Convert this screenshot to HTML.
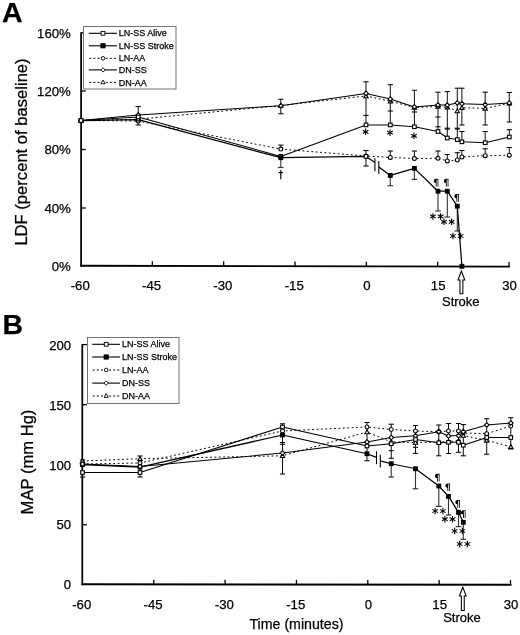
<!DOCTYPE html>
<html><head><meta charset="utf-8"><title>Figure</title>
<style>
html,body{margin:0;padding:0;background:#fff;}
body{width:520px;height:635px;overflow:hidden;font-family:"Liberation Sans", sans-serif;}
svg{display:block;font-family:"Liberation Sans", sans-serif;filter:blur(0.3px);}
</style></head><body>
<svg width="520" height="635" viewBox="0 0 520 635">
<rect width="520" height="635" fill="#fff"/>
<line x1="81.10" y1="32.20" x2="81.10" y2="266.60" stroke="#000" stroke-width="1.75" />
<line x1="80.20" y1="265.75" x2="509.90" y2="266.65" stroke="#000" stroke-width="1.9" />
<line x1="81.10" y1="32.80" x2="85.70" y2="32.80" stroke="#000" stroke-width="1.3" />
<line x1="81.10" y1="91.00" x2="85.70" y2="91.00" stroke="#000" stroke-width="1.3" />
<line x1="81.10" y1="149.50" x2="85.70" y2="149.50" stroke="#000" stroke-width="1.3" />
<line x1="81.10" y1="208.00" x2="85.70" y2="208.00" stroke="#000" stroke-width="1.3" />
<line x1="152.33" y1="265.90" x2="152.33" y2="261.20" stroke="#000" stroke-width="1.3" />
<line x1="223.67" y1="266.05" x2="223.67" y2="261.35" stroke="#000" stroke-width="1.3" />
<line x1="295.00" y1="266.20" x2="295.00" y2="261.50" stroke="#000" stroke-width="1.3" />
<line x1="366.34" y1="266.35" x2="366.34" y2="261.65" stroke="#000" stroke-width="1.3" />
<line x1="437.67" y1="266.50" x2="437.67" y2="261.80" stroke="#000" stroke-width="1.3" />
<line x1="509.00" y1="266.65" x2="509.00" y2="261.95" stroke="#000" stroke-width="1.3" />
<line x1="138.20" y1="106.50" x2="138.20" y2="125.00" stroke="#000" stroke-width="0.95" />
<line x1="135.60" y1="106.50" x2="140.80" y2="106.50" stroke="#000" stroke-width="1.05" />
<line x1="135.60" y1="125.00" x2="140.80" y2="125.00" stroke="#000" stroke-width="1.05" />
<line x1="280.80" y1="99.25" x2="280.80" y2="113.75" stroke="#000" stroke-width="0.95" />
<line x1="278.20" y1="99.25" x2="283.40" y2="99.25" stroke="#000" stroke-width="1.05" />
<line x1="278.20" y1="113.75" x2="283.40" y2="113.75" stroke="#000" stroke-width="1.05" />
<line x1="280.80" y1="145.10" x2="280.80" y2="149.00" stroke="#000" stroke-width="0.95" />
<line x1="278.20" y1="145.10" x2="283.40" y2="145.10" stroke="#000" stroke-width="1.05" />
<line x1="280.80" y1="157.00" x2="280.80" y2="167.50" stroke="#333" stroke-width="1.1" />
<line x1="278.00" y1="167.50" x2="283.60" y2="167.50" stroke="#333" stroke-width="1.2000000000000002" />
<line x1="366.00" y1="81.80" x2="366.00" y2="124.90" stroke="#000" stroke-width="0.95" />
<line x1="363.40" y1="81.80" x2="368.60" y2="81.80" stroke="#000" stroke-width="1.05" />
<line x1="363.40" y1="115.40" x2="368.60" y2="115.40" stroke="#000" stroke-width="1.05" />
<line x1="366.00" y1="150.50" x2="366.00" y2="166.00" stroke="#000" stroke-width="0.95" />
<line x1="363.40" y1="150.50" x2="368.60" y2="150.50" stroke="#000" stroke-width="1.05" />
<line x1="363.40" y1="166.00" x2="368.60" y2="166.00" stroke="#000" stroke-width="1.05" />
<line x1="390.30" y1="84.70" x2="390.30" y2="124.90" stroke="#000" stroke-width="0.95" />
<line x1="387.70" y1="84.70" x2="392.90" y2="84.70" stroke="#000" stroke-width="1.05" />
<line x1="387.70" y1="111.00" x2="392.90" y2="111.00" stroke="#000" stroke-width="1.05" />
<line x1="390.30" y1="151.00" x2="390.30" y2="157.40" stroke="#000" stroke-width="0.95" />
<line x1="387.70" y1="151.00" x2="392.90" y2="151.00" stroke="#000" stroke-width="1.05" />
<line x1="390.30" y1="175.40" x2="390.30" y2="185.70" stroke="#333" stroke-width="1.1" />
<line x1="387.50" y1="185.70" x2="393.10" y2="185.70" stroke="#333" stroke-width="1.2000000000000002" />
<line x1="414.40" y1="90.25" x2="414.40" y2="126.80" stroke="#000" stroke-width="0.95" />
<line x1="411.80" y1="90.25" x2="417.00" y2="90.25" stroke="#000" stroke-width="1.05" />
<line x1="411.80" y1="112.00" x2="417.00" y2="112.00" stroke="#000" stroke-width="1.05" />
<line x1="414.40" y1="151.00" x2="414.40" y2="158.60" stroke="#000" stroke-width="0.95" />
<line x1="411.80" y1="151.00" x2="417.00" y2="151.00" stroke="#000" stroke-width="1.05" />
<line x1="414.40" y1="168.40" x2="414.40" y2="179.40" stroke="#333" stroke-width="1.1" />
<line x1="411.60" y1="179.40" x2="417.20" y2="179.40" stroke="#333" stroke-width="1.2000000000000002" />
<line x1="438.00" y1="92.20" x2="438.00" y2="131.50" stroke="#000" stroke-width="0.95" />
<line x1="435.40" y1="92.20" x2="440.60" y2="92.20" stroke="#000" stroke-width="1.05" />
<line x1="435.40" y1="117.00" x2="440.60" y2="117.00" stroke="#000" stroke-width="1.05" />
<line x1="435.40" y1="126.80" x2="440.60" y2="126.80" stroke="#000" stroke-width="1.05" />
<line x1="438.00" y1="151.00" x2="438.00" y2="158.30" stroke="#000" stroke-width="0.95" />
<line x1="435.40" y1="151.00" x2="440.60" y2="151.00" stroke="#000" stroke-width="1.05" />
<line x1="438.00" y1="191.20" x2="438.00" y2="211.00" stroke="#333" stroke-width="1.1" />
<line x1="435.20" y1="211.00" x2="440.80" y2="211.00" stroke="#333" stroke-width="1.2000000000000002" />
<line x1="447.30" y1="91.60" x2="447.30" y2="138.00" stroke="#000" stroke-width="0.95" />
<line x1="444.70" y1="91.60" x2="449.90" y2="91.60" stroke="#000" stroke-width="1.05" />
<line x1="444.70" y1="128.20" x2="449.90" y2="128.20" stroke="#000" stroke-width="1.05" />
<line x1="444.70" y1="129.10" x2="449.90" y2="129.10" stroke="#000" stroke-width="1.05" />
<line x1="447.30" y1="154.50" x2="447.30" y2="160.90" stroke="#000" stroke-width="0.95" />
<line x1="444.70" y1="154.50" x2="449.90" y2="154.50" stroke="#000" stroke-width="1.05" />
<line x1="447.30" y1="191.20" x2="447.30" y2="217.00" stroke="#333" stroke-width="1.1" />
<line x1="444.50" y1="217.00" x2="450.10" y2="217.00" stroke="#333" stroke-width="1.2000000000000002" />
<line x1="457.30" y1="88.20" x2="457.30" y2="139.60" stroke="#000" stroke-width="0.95" />
<line x1="454.70" y1="88.20" x2="459.90" y2="88.20" stroke="#000" stroke-width="1.05" />
<line x1="454.70" y1="128.20" x2="459.90" y2="128.20" stroke="#000" stroke-width="1.05" />
<line x1="454.70" y1="129.10" x2="459.90" y2="129.10" stroke="#000" stroke-width="1.05" />
<line x1="457.30" y1="152.70" x2="457.30" y2="160.00" stroke="#000" stroke-width="0.95" />
<line x1="454.70" y1="152.70" x2="459.90" y2="152.70" stroke="#000" stroke-width="1.05" />
<line x1="457.30" y1="206.20" x2="457.30" y2="231.00" stroke="#333" stroke-width="1.1" />
<line x1="454.50" y1="231.00" x2="460.10" y2="231.00" stroke="#333" stroke-width="1.2000000000000002" />
<line x1="461.90" y1="88.20" x2="461.90" y2="125.00" stroke="#000" stroke-width="0.95" />
<line x1="459.30" y1="88.20" x2="464.50" y2="88.20" stroke="#000" stroke-width="1.05" />
<line x1="459.30" y1="125.00" x2="464.50" y2="125.00" stroke="#000" stroke-width="1.05" />
<line x1="461.90" y1="131.50" x2="461.90" y2="141.80" stroke="#000" stroke-width="0.95" />
<line x1="459.30" y1="131.50" x2="464.50" y2="131.50" stroke="#000" stroke-width="1.05" />
<line x1="461.90" y1="150.50" x2="461.90" y2="157.00" stroke="#000" stroke-width="0.95" />
<line x1="459.30" y1="150.50" x2="464.50" y2="150.50" stroke="#000" stroke-width="1.05" />
<line x1="485.20" y1="92.20" x2="485.20" y2="125.00" stroke="#000" stroke-width="0.95" />
<line x1="482.60" y1="92.20" x2="487.80" y2="92.20" stroke="#000" stroke-width="1.05" />
<line x1="482.60" y1="125.00" x2="487.80" y2="125.00" stroke="#000" stroke-width="1.05" />
<line x1="485.20" y1="131.50" x2="485.20" y2="142.70" stroke="#000" stroke-width="0.95" />
<line x1="482.60" y1="131.50" x2="487.80" y2="131.50" stroke="#000" stroke-width="1.05" />
<line x1="485.20" y1="148.80" x2="485.20" y2="155.70" stroke="#000" stroke-width="0.95" />
<line x1="482.60" y1="148.80" x2="487.80" y2="148.80" stroke="#000" stroke-width="1.05" />
<line x1="509.30" y1="92.50" x2="509.30" y2="122.00" stroke="#000" stroke-width="0.95" />
<line x1="506.70" y1="92.50" x2="511.90" y2="92.50" stroke="#000" stroke-width="1.05" />
<line x1="506.70" y1="122.00" x2="511.90" y2="122.00" stroke="#000" stroke-width="1.05" />
<line x1="509.30" y1="129.70" x2="509.30" y2="137.00" stroke="#000" stroke-width="0.95" />
<line x1="506.70" y1="129.70" x2="511.90" y2="129.70" stroke="#000" stroke-width="1.05" />
<line x1="509.30" y1="147.50" x2="509.30" y2="155.20" stroke="#000" stroke-width="0.95" />
<line x1="506.70" y1="147.50" x2="511.90" y2="147.50" stroke="#000" stroke-width="1.05" />
<polyline points="81.00,120.50 138.20,121.00 280.80,149.10 366.00,156.00 390.30,157.40 414.40,158.60 438.00,158.30 447.30,160.90 457.30,160.00 461.90,157.00 485.20,155.70 509.30,155.20" fill="none" stroke="#000" stroke-width="1.0" stroke-dasharray="1.8,2.6" stroke-linejoin="round"/>
<polyline points="81.00,120.50 138.20,119.20 280.80,105.50 366.00,96.00 390.30,101.20 414.40,107.50 438.00,106.40 447.30,107.20 457.30,111.00 461.90,107.70 485.20,108.40 509.30,103.20" fill="none" stroke="#000" stroke-width="1.0" stroke-dasharray="1.8,2.6" stroke-linejoin="round"/>
<polyline points="81.00,120.50 138.20,115.00 280.80,105.75 366.00,93.40 390.30,99.00 414.40,106.90 438.00,105.00 447.30,105.10 457.30,102.90 461.90,103.75 485.20,104.60 509.30,102.90" fill="none" stroke="#000" stroke-width="1.05"  stroke-linejoin="round"/>
<polyline points="81.00,120.50 138.20,117.00 280.80,156.40 366.00,124.90 390.30,124.90 414.40,126.80 438.00,131.50 447.30,138.00 457.30,139.60 461.90,141.80 485.20,142.70 509.30,137.00" fill="none" stroke="#000" stroke-width="1.05"  stroke-linejoin="round"/>
<polyline points="81.00,120.70 138.20,119.60 280.80,157.70 366.00,156.40 374.90,162.60" fill="none" stroke="#000" stroke-width="1.25"  stroke-linejoin="round"/>
<polyline points="378.80,167.00 390.30,175.40 414.40,168.40 438.00,191.20 447.30,191.20 457.30,206.20 461.90,266.30" fill="none" stroke="#000" stroke-width="1.25"  stroke-linejoin="round"/>
<line x1="374.90" y1="158.30" x2="374.90" y2="171.30" stroke="#000" stroke-width="1.1" />
<line x1="378.80" y1="161.00" x2="378.80" y2="173.70" stroke="#000" stroke-width="1.1" />
<rect x="79.15" y="118.85" width="3.70" height="3.70" fill="#000" stroke="#000" stroke-width="1.1"/>
<rect x="136.35" y="117.75" width="3.70" height="3.70" fill="#000" stroke="#000" stroke-width="1.1"/>
<circle cx="81.00" cy="120.50" r="1.95" fill="#fff" stroke="#000" stroke-width="1.1"/>
<circle cx="138.20" cy="121.00" r="1.95" fill="#fff" stroke="#000" stroke-width="1.1"/>
<circle cx="280.80" cy="149.10" r="1.95" fill="#fff" stroke="#000" stroke-width="1.1"/>
<circle cx="366.00" cy="156.00" r="1.95" fill="#fff" stroke="#000" stroke-width="1.1"/>
<circle cx="390.30" cy="157.40" r="1.95" fill="#fff" stroke="#000" stroke-width="1.1"/>
<circle cx="414.40" cy="158.60" r="1.95" fill="#fff" stroke="#000" stroke-width="1.1"/>
<circle cx="438.00" cy="158.30" r="1.95" fill="#fff" stroke="#000" stroke-width="1.1"/>
<circle cx="447.30" cy="160.90" r="1.95" fill="#fff" stroke="#000" stroke-width="1.1"/>
<circle cx="457.30" cy="160.00" r="1.95" fill="#fff" stroke="#000" stroke-width="1.1"/>
<circle cx="461.90" cy="157.00" r="1.95" fill="#fff" stroke="#000" stroke-width="1.1"/>
<circle cx="485.20" cy="155.70" r="1.95" fill="#fff" stroke="#000" stroke-width="1.1"/>
<circle cx="509.30" cy="155.20" r="1.95" fill="#fff" stroke="#000" stroke-width="1.1"/>
<polygon points="81.00,118.35 83.15,122.22 78.85,122.22" fill="#fff" stroke="#000" stroke-width="1.1"/>
<polygon points="138.20,117.05 140.35,120.92 136.05,120.92" fill="#fff" stroke="#000" stroke-width="1.1"/>
<polygon points="280.80,103.35 282.95,107.22 278.65,107.22" fill="#fff" stroke="#000" stroke-width="1.1"/>
<polygon points="366.00,93.85 368.15,97.72 363.85,97.72" fill="#fff" stroke="#000" stroke-width="1.1"/>
<polygon points="390.30,99.05 392.45,102.92 388.15,102.92" fill="#fff" stroke="#000" stroke-width="1.1"/>
<polygon points="414.40,105.35 416.55,109.22 412.25,109.22" fill="#fff" stroke="#000" stroke-width="1.1"/>
<polygon points="438.00,104.25 440.15,108.12 435.85,108.12" fill="#fff" stroke="#000" stroke-width="1.1"/>
<polygon points="447.30,105.05 449.45,108.92 445.15,108.92" fill="#fff" stroke="#000" stroke-width="1.1"/>
<polygon points="457.30,108.85 459.45,112.72 455.15,112.72" fill="#fff" stroke="#000" stroke-width="1.1"/>
<polygon points="461.90,105.55 464.05,109.42 459.75,109.42" fill="#fff" stroke="#000" stroke-width="1.1"/>
<polygon points="485.20,106.25 487.35,110.12 483.05,110.12" fill="#fff" stroke="#000" stroke-width="1.1"/>
<polygon points="509.30,101.05 511.45,104.92 507.15,104.92" fill="#fff" stroke="#000" stroke-width="1.1"/>
<polygon points="81.00,118.20 83.30,120.50 81.00,122.80 78.70,120.50" fill="#fff" stroke="#000" stroke-width="1.1"/>
<polygon points="138.20,112.70 140.50,115.00 138.20,117.30 135.90,115.00" fill="#fff" stroke="#000" stroke-width="1.1"/>
<polygon points="280.80,103.45 283.10,105.75 280.80,108.05 278.50,105.75" fill="#fff" stroke="#000" stroke-width="1.1"/>
<polygon points="366.00,91.10 368.30,93.40 366.00,95.70 363.70,93.40" fill="#fff" stroke="#000" stroke-width="1.1"/>
<polygon points="390.30,96.70 392.60,99.00 390.30,101.30 388.00,99.00" fill="#fff" stroke="#000" stroke-width="1.1"/>
<polygon points="414.40,104.60 416.70,106.90 414.40,109.20 412.10,106.90" fill="#fff" stroke="#000" stroke-width="1.1"/>
<polygon points="438.00,102.70 440.30,105.00 438.00,107.30 435.70,105.00" fill="#fff" stroke="#000" stroke-width="1.1"/>
<polygon points="447.30,102.80 449.60,105.10 447.30,107.40 445.00,105.10" fill="#fff" stroke="#000" stroke-width="1.1"/>
<polygon points="457.30,100.60 459.60,102.90 457.30,105.20 455.00,102.90" fill="#fff" stroke="#000" stroke-width="1.1"/>
<polygon points="461.90,101.45 464.20,103.75 461.90,106.05 459.60,103.75" fill="#fff" stroke="#000" stroke-width="1.1"/>
<polygon points="485.20,102.30 487.50,104.60 485.20,106.90 482.90,104.60" fill="#fff" stroke="#000" stroke-width="1.1"/>
<polygon points="509.30,100.60 511.60,102.90 509.30,105.20 507.00,102.90" fill="#fff" stroke="#000" stroke-width="1.1"/>
<rect x="79.20" y="118.70" width="3.60" height="3.60" fill="#fff" stroke="#000" stroke-width="1.1"/>
<rect x="136.40" y="115.20" width="3.60" height="3.60" fill="#fff" stroke="#000" stroke-width="1.1"/>
<rect x="279.00" y="154.60" width="3.60" height="3.60" fill="#fff" stroke="#000" stroke-width="1.1"/>
<rect x="364.20" y="123.10" width="3.60" height="3.60" fill="#fff" stroke="#000" stroke-width="1.1"/>
<rect x="388.50" y="123.10" width="3.60" height="3.60" fill="#fff" stroke="#000" stroke-width="1.1"/>
<rect x="412.60" y="125.00" width="3.60" height="3.60" fill="#fff" stroke="#000" stroke-width="1.1"/>
<rect x="436.20" y="129.70" width="3.60" height="3.60" fill="#fff" stroke="#000" stroke-width="1.1"/>
<rect x="445.50" y="136.20" width="3.60" height="3.60" fill="#fff" stroke="#000" stroke-width="1.1"/>
<rect x="455.50" y="137.80" width="3.60" height="3.60" fill="#fff" stroke="#000" stroke-width="1.1"/>
<rect x="460.10" y="140.00" width="3.60" height="3.60" fill="#fff" stroke="#000" stroke-width="1.1"/>
<rect x="483.40" y="140.90" width="3.60" height="3.60" fill="#fff" stroke="#000" stroke-width="1.1"/>
<rect x="507.50" y="135.20" width="3.60" height="3.60" fill="#fff" stroke="#000" stroke-width="1.1"/>
<rect x="278.95" y="155.85" width="3.70" height="3.70" fill="#000" stroke="#000" stroke-width="1.1"/>
<rect x="388.45" y="173.55" width="3.70" height="3.70" fill="#000" stroke="#000" stroke-width="1.1"/>
<rect x="412.55" y="166.55" width="3.70" height="3.70" fill="#000" stroke="#000" stroke-width="1.1"/>
<rect x="436.15" y="189.35" width="3.70" height="3.70" fill="#000" stroke="#000" stroke-width="1.1"/>
<rect x="445.45" y="189.35" width="3.70" height="3.70" fill="#000" stroke="#000" stroke-width="1.1"/>
<rect x="455.45" y="204.35" width="3.70" height="3.70" fill="#000" stroke="#000" stroke-width="1.1"/>
<rect x="460.05" y="264.45" width="3.70" height="3.70" fill="#000" stroke="#000" stroke-width="1.1"/>
<rect x="364.20" y="154.60" width="3.60" height="3.60" fill="#fff" stroke="#000" stroke-width="1.1"/>
<text x="70.80" y="37.70" font-size="13.2" text-anchor="end" font-weight="normal" fill="#000" stroke="#000" stroke-width="0.25" >160%</text>
<text x="70.80" y="95.80" font-size="13.2" text-anchor="end" font-weight="normal" fill="#000" stroke="#000" stroke-width="0.25" >120%</text>
<text x="70.80" y="154.30" font-size="13.2" text-anchor="end" font-weight="normal" fill="#000" stroke="#000" stroke-width="0.25" >80%</text>
<text x="70.80" y="212.80" font-size="13.2" text-anchor="end" font-weight="normal" fill="#000" stroke="#000" stroke-width="0.25" >40%</text>
<text x="70.80" y="271.20" font-size="13.2" text-anchor="end" font-weight="normal" fill="#000" stroke="#000" stroke-width="0.25" >0%</text>
<text x="80.20" y="290.10" font-size="13.2" text-anchor="middle" font-weight="normal" fill="#000" stroke="#000" stroke-width="0.25" >-60</text>
<text x="151.53" y="290.10" font-size="13.2" text-anchor="middle" font-weight="normal" fill="#000" stroke="#000" stroke-width="0.25" >-45</text>
<text x="222.87" y="290.10" font-size="13.2" text-anchor="middle" font-weight="normal" fill="#000" stroke="#000" stroke-width="0.25" >-30</text>
<text x="294.20" y="290.10" font-size="13.2" text-anchor="middle" font-weight="normal" fill="#000" stroke="#000" stroke-width="0.25" >-15</text>
<text x="366.84" y="290.10" font-size="13.2" text-anchor="middle" font-weight="normal" fill="#000" stroke="#000" stroke-width="0.25" >0</text>
<text x="438.17" y="290.10" font-size="13.2" text-anchor="middle" font-weight="normal" fill="#000" stroke="#000" stroke-width="0.25" >15</text>
<text x="509.50" y="290.10" font-size="13.2" text-anchor="middle" font-weight="normal" fill="#000" stroke="#000" stroke-width="0.25" >30</text>
<text x="0.00" y="0.00" font-size="16.6" text-anchor="middle" font-weight="normal" fill="#000" stroke="#000" stroke-width="0.25" transform="translate(27,152) rotate(-90)">LDF (percent of baseline)</text>
<text x="2.00" y="21.90" font-size="28.5" text-anchor="start" font-weight="bold" fill="#000" stroke="#000" stroke-width="0.25" >A</text>
<line x1="365.60" y1="128.55" x2="365.60" y2="135.05" stroke="#000" stroke-width="1.1" />
<line x1="362.79" y1="130.18" x2="368.41" y2="133.43" stroke="#000" stroke-width="1.1" />
<line x1="368.41" y1="130.18" x2="362.79" y2="133.43" stroke="#000" stroke-width="1.1" />
<line x1="390.00" y1="129.45" x2="390.00" y2="135.95" stroke="#000" stroke-width="1.1" />
<line x1="387.19" y1="131.07" x2="392.81" y2="134.32" stroke="#000" stroke-width="1.1" />
<line x1="392.81" y1="131.07" x2="387.19" y2="134.32" stroke="#000" stroke-width="1.1" />
<line x1="414.00" y1="132.55" x2="414.00" y2="139.05" stroke="#000" stroke-width="1.1" />
<line x1="411.19" y1="134.18" x2="416.81" y2="137.43" stroke="#000" stroke-width="1.1" />
<line x1="416.81" y1="134.18" x2="411.19" y2="137.43" stroke="#000" stroke-width="1.1" />
<line x1="280.80" y1="170.00" x2="280.80" y2="179.20" stroke="#000" stroke-width="1.15" />
<line x1="278.50" y1="172.60" x2="283.10" y2="172.60" stroke="#000" stroke-width="1.15" />
<path d="M438.50,178.70 L435.80,178.70 C433.20,178.70 433.20,183.01 435.80,183.01 L435.80,186.40 L436.65,186.40 L436.65,179.55 L437.55,179.55 L437.55,186.40 L438.35,186.40 L438.35,179.55 L438.50,179.55 Z" fill="#000"/>
<path d="M448.60,178.70 L445.90,178.70 C443.30,178.70 443.30,183.01 445.90,183.01 L445.90,186.40 L446.75,186.40 L446.75,179.55 L447.65,179.55 L447.65,186.40 L448.45,186.40 L448.45,179.55 L448.60,179.55 Z" fill="#000"/>
<path d="M459.10,194.00 L456.40,194.00 C453.80,194.00 453.80,198.31 456.40,198.31 L456.40,201.70 L457.25,201.70 L457.25,194.85 L458.15,194.85 L458.15,201.70 L458.95,201.70 L458.95,194.85 L459.10,194.85 Z" fill="#000"/>
<line x1="432.90" y1="213.15" x2="432.90" y2="219.65" stroke="#000" stroke-width="1.1" />
<line x1="430.09" y1="214.78" x2="435.71" y2="218.03" stroke="#000" stroke-width="1.1" />
<line x1="435.71" y1="214.78" x2="430.09" y2="218.03" stroke="#000" stroke-width="1.1" />
<line x1="440.60" y1="213.15" x2="440.60" y2="219.65" stroke="#000" stroke-width="1.1" />
<line x1="437.79" y1="214.78" x2="443.41" y2="218.03" stroke="#000" stroke-width="1.1" />
<line x1="443.41" y1="214.78" x2="437.79" y2="218.03" stroke="#000" stroke-width="1.1" />
<line x1="443.95" y1="218.55" x2="443.95" y2="225.05" stroke="#000" stroke-width="1.1" />
<line x1="441.14" y1="220.18" x2="446.76" y2="223.43" stroke="#000" stroke-width="1.1" />
<line x1="446.76" y1="220.18" x2="441.14" y2="223.43" stroke="#000" stroke-width="1.1" />
<line x1="451.65" y1="218.55" x2="451.65" y2="225.05" stroke="#000" stroke-width="1.1" />
<line x1="448.84" y1="220.18" x2="454.46" y2="223.43" stroke="#000" stroke-width="1.1" />
<line x1="454.46" y1="220.18" x2="448.84" y2="223.43" stroke="#000" stroke-width="1.1" />
<line x1="452.95" y1="232.75" x2="452.95" y2="239.25" stroke="#000" stroke-width="1.1" />
<line x1="450.14" y1="234.38" x2="455.76" y2="237.62" stroke="#000" stroke-width="1.1" />
<line x1="455.76" y1="234.38" x2="450.14" y2="237.62" stroke="#000" stroke-width="1.1" />
<line x1="460.65" y1="232.75" x2="460.65" y2="239.25" stroke="#000" stroke-width="1.1" />
<line x1="457.84" y1="234.38" x2="463.46" y2="237.62" stroke="#000" stroke-width="1.1" />
<line x1="463.46" y1="234.38" x2="457.84" y2="237.62" stroke="#000" stroke-width="1.1" />
<polygon points="461.40,271.00 464.80,280.00 462.85,280.00 462.85,293.70 459.95,293.70 459.95,280.00 458.00,280.00" fill="#fff" stroke="#000" stroke-width="1.05" stroke-linejoin="miter"/>
<text x="460.80" y="305.50" font-size="13.0" text-anchor="middle" font-weight="normal" fill="#000" stroke="#000" stroke-width="0.25" >Stroke</text>
<rect x="83.5" y="26.5" width="92.5" height="62.5" fill="#fff" stroke="#747474" stroke-width="1"/>
<line x1="88.80" y1="33.30" x2="117.00" y2="33.30" stroke="#000" stroke-width="1.1" />
<rect x="101.10" y="31.40" width="3.80" height="3.80" fill="#fff" stroke="#000" stroke-width="0.9"/>
<text x="118.80" y="36.40" font-size="9" text-anchor="start" font-weight="normal" fill="#000" stroke="#000" stroke-width="0.25" >LN-SS Alive</text>
<line x1="88.80" y1="45.80" x2="117.00" y2="45.80" stroke="#000" stroke-width="1.1" />
<rect x="100.90" y="43.70" width="4.20" height="4.20" fill="#000" stroke="#000" stroke-width="0.9"/>
<text x="118.80" y="48.90" font-size="9" text-anchor="start" font-weight="normal" fill="#000" stroke="#000" stroke-width="0.25" >LN-SS Stroke</text>
<line x1="89.30" y1="58.30" x2="117.00" y2="58.30" stroke="#000" stroke-width="1.0" stroke-dasharray="2,2.1"/>
<circle cx="103.00" cy="58.30" r="1.8" fill="#fff" stroke="#000" stroke-width="0.9"/>
<text x="118.80" y="61.40" font-size="9" text-anchor="start" font-weight="normal" fill="#000" stroke="#000" stroke-width="0.25" >LN-AA</text>
<line x1="88.80" y1="69.90" x2="117.00" y2="69.90" stroke="#000" stroke-width="1.1" />
<polygon points="103.00,67.70 105.20,69.90 103.00,72.10 100.80,69.90" fill="#fff" stroke="#000" stroke-width="0.9"/>
<text x="118.80" y="73.00" font-size="9" text-anchor="start" font-weight="normal" fill="#000" stroke="#000" stroke-width="0.25" >DN-SS</text>
<line x1="89.30" y1="82.40" x2="117.00" y2="82.40" stroke="#000" stroke-width="1.0" stroke-dasharray="2,2.1"/>
<polygon points="103.00,80.00 105.10,83.78 100.90,83.78" fill="#fff" stroke="#000" stroke-width="0.9"/>
<text x="118.80" y="85.50" font-size="9" text-anchor="start" font-weight="normal" fill="#000" stroke="#000" stroke-width="0.25" >DN-AA</text>
<line x1="82.30" y1="344.00" x2="82.30" y2="585.10" stroke="#000" stroke-width="1.75" />
<line x1="81.40" y1="584.30" x2="511.50" y2="584.80" stroke="#000" stroke-width="1.9" />
<line x1="82.30" y1="344.60" x2="86.90" y2="344.60" stroke="#000" stroke-width="1.3" />
<line x1="82.30" y1="404.70" x2="86.90" y2="404.70" stroke="#000" stroke-width="1.3" />
<line x1="82.30" y1="464.70" x2="86.90" y2="464.70" stroke="#000" stroke-width="1.3" />
<line x1="82.30" y1="524.80" x2="86.90" y2="524.80" stroke="#000" stroke-width="1.3" />
<line x1="153.75" y1="584.38" x2="153.75" y2="579.68" stroke="#000" stroke-width="1.3" />
<line x1="225.10" y1="584.47" x2="225.10" y2="579.77" stroke="#000" stroke-width="1.3" />
<line x1="296.45" y1="584.55" x2="296.45" y2="579.85" stroke="#000" stroke-width="1.3" />
<line x1="367.80" y1="584.63" x2="367.80" y2="579.93" stroke="#000" stroke-width="1.3" />
<line x1="439.15" y1="584.72" x2="439.15" y2="580.02" stroke="#000" stroke-width="1.3" />
<line x1="510.50" y1="584.80" x2="510.50" y2="580.10" stroke="#000" stroke-width="1.3" />
<line x1="82.50" y1="460.00" x2="82.50" y2="477.00" stroke="#000" stroke-width="0.95" />
<line x1="79.90" y1="460.00" x2="85.10" y2="460.00" stroke="#000" stroke-width="1.05" />
<line x1="79.90" y1="477.00" x2="85.10" y2="477.00" stroke="#000" stroke-width="1.05" />
<line x1="140.00" y1="456.00" x2="140.00" y2="477.00" stroke="#000" stroke-width="0.95" />
<line x1="137.40" y1="456.00" x2="142.60" y2="456.00" stroke="#000" stroke-width="1.05" />
<line x1="137.40" y1="477.00" x2="142.60" y2="477.00" stroke="#000" stroke-width="1.05" />
<line x1="282.50" y1="423.80" x2="282.50" y2="474.00" stroke="#000" stroke-width="0.95" />
<line x1="279.90" y1="423.80" x2="285.10" y2="423.80" stroke="#000" stroke-width="1.05" />
<line x1="279.90" y1="442.50" x2="285.10" y2="442.50" stroke="#000" stroke-width="1.05" />
<line x1="279.90" y1="444.30" x2="285.10" y2="444.30" stroke="#000" stroke-width="1.05" />
<line x1="279.90" y1="474.00" x2="285.10" y2="474.00" stroke="#000" stroke-width="1.05" />
<line x1="367.00" y1="422.50" x2="367.00" y2="460.75" stroke="#000" stroke-width="0.95" />
<line x1="364.40" y1="422.50" x2="369.60" y2="422.50" stroke="#000" stroke-width="1.05" />
<line x1="364.40" y1="460.75" x2="369.60" y2="460.75" stroke="#000" stroke-width="1.05" />
<line x1="391.25" y1="424.20" x2="391.25" y2="458.30" stroke="#000" stroke-width="0.95" />
<line x1="388.65" y1="424.20" x2="393.85" y2="424.20" stroke="#000" stroke-width="1.05" />
<line x1="388.65" y1="450.70" x2="393.85" y2="450.70" stroke="#000" stroke-width="1.05" />
<line x1="388.65" y1="458.30" x2="393.85" y2="458.30" stroke="#000" stroke-width="1.05" />
<line x1="391.25" y1="463.75" x2="391.25" y2="477.00" stroke="#333" stroke-width="1.1" />
<line x1="388.45" y1="477.00" x2="394.05" y2="477.00" stroke="#333" stroke-width="1.2000000000000002" />
<line x1="415.50" y1="425.50" x2="415.50" y2="453.40" stroke="#000" stroke-width="0.95" />
<line x1="412.90" y1="425.50" x2="418.10" y2="425.50" stroke="#000" stroke-width="1.05" />
<line x1="412.90" y1="447.30" x2="418.10" y2="447.30" stroke="#000" stroke-width="1.05" />
<line x1="412.90" y1="453.40" x2="418.10" y2="453.40" stroke="#000" stroke-width="1.05" />
<line x1="415.50" y1="468.75" x2="415.50" y2="488.75" stroke="#333" stroke-width="1.1" />
<line x1="412.70" y1="488.75" x2="418.30" y2="488.75" stroke="#333" stroke-width="1.2000000000000002" />
<line x1="438.80" y1="425.00" x2="438.80" y2="455.80" stroke="#000" stroke-width="0.95" />
<line x1="436.20" y1="425.00" x2="441.40" y2="425.00" stroke="#000" stroke-width="1.05" />
<line x1="436.20" y1="455.80" x2="441.40" y2="455.80" stroke="#000" stroke-width="1.05" />
<line x1="438.80" y1="486.00" x2="438.80" y2="506.40" stroke="#333" stroke-width="1.1" />
<line x1="436.00" y1="506.40" x2="441.60" y2="506.40" stroke="#333" stroke-width="1.2000000000000002" />
<line x1="448.50" y1="423.50" x2="448.50" y2="453.50" stroke="#000" stroke-width="0.95" />
<line x1="445.90" y1="423.50" x2="451.10" y2="423.50" stroke="#000" stroke-width="1.05" />
<line x1="445.90" y1="453.50" x2="451.10" y2="453.50" stroke="#000" stroke-width="1.05" />
<line x1="448.50" y1="496.40" x2="448.50" y2="515.00" stroke="#333" stroke-width="1.1" />
<line x1="445.70" y1="515.00" x2="451.30" y2="515.00" stroke="#333" stroke-width="1.2000000000000002" />
<line x1="458.50" y1="423.50" x2="458.50" y2="452.30" stroke="#000" stroke-width="0.95" />
<line x1="455.90" y1="423.50" x2="461.10" y2="423.50" stroke="#000" stroke-width="1.05" />
<line x1="455.90" y1="452.30" x2="461.10" y2="452.30" stroke="#000" stroke-width="1.05" />
<line x1="458.50" y1="512.30" x2="458.50" y2="526.60" stroke="#333" stroke-width="1.1" />
<line x1="455.70" y1="526.60" x2="461.30" y2="526.60" stroke="#333" stroke-width="1.2000000000000002" />
<line x1="463.30" y1="424.60" x2="463.30" y2="455.80" stroke="#000" stroke-width="0.95" />
<line x1="460.70" y1="424.60" x2="465.90" y2="424.60" stroke="#000" stroke-width="1.05" />
<line x1="460.70" y1="455.80" x2="465.90" y2="455.80" stroke="#000" stroke-width="1.05" />
<line x1="463.30" y1="522.30" x2="463.30" y2="539.30" stroke="#333" stroke-width="1.1" />
<line x1="460.50" y1="539.30" x2="466.10" y2="539.30" stroke="#333" stroke-width="1.2000000000000002" />
<line x1="486.70" y1="418.70" x2="486.70" y2="454.20" stroke="#000" stroke-width="0.95" />
<line x1="484.10" y1="418.70" x2="489.30" y2="418.70" stroke="#000" stroke-width="1.05" />
<line x1="484.10" y1="454.20" x2="489.30" y2="454.20" stroke="#000" stroke-width="1.05" />
<line x1="510.80" y1="417.70" x2="510.80" y2="449.00" stroke="#000" stroke-width="0.95" />
<line x1="508.20" y1="417.70" x2="513.40" y2="417.70" stroke="#000" stroke-width="1.05" />
<line x1="508.20" y1="449.00" x2="513.40" y2="449.00" stroke="#000" stroke-width="1.05" />
<polyline points="82.50,464.00 140.00,463.00 282.50,431.00 367.00,427.00 391.25,429.50 415.50,431.00 438.80,431.70 448.50,431.00 458.50,431.00 463.30,433.00 486.70,433.70 510.80,426.00" fill="none" stroke="#000" stroke-width="1.0" stroke-dasharray="1.8,2.6" stroke-linejoin="round"/>
<polyline points="82.50,461.00 140.00,458.70 282.50,455.80 367.00,432.00 391.25,442.00 415.50,442.50 438.80,442.00 448.50,441.50 458.50,440.80 463.30,435.60 486.70,440.40 510.80,446.70" fill="none" stroke="#000" stroke-width="1.0" stroke-dasharray="1.8,2.6" stroke-linejoin="round"/>
<polyline points="82.50,464.00 140.00,466.50 282.50,453.00 367.00,442.00 391.25,437.50 415.50,435.75 438.80,431.70 448.50,436.00 458.50,435.60 463.30,431.70 486.70,425.00 510.80,423.00" fill="none" stroke="#000" stroke-width="1.05"  stroke-linejoin="round"/>
<polyline points="82.50,472.50 140.00,472.50 282.50,427.00 367.00,446.00 391.25,443.75 415.50,439.50 438.80,442.70 448.50,442.30 458.50,442.30 463.30,445.20 486.70,437.50 510.80,437.50" fill="none" stroke="#000" stroke-width="1.05"  stroke-linejoin="round"/>
<polyline points="82.50,464.60 140.00,467.20 282.50,435.00 367.00,453.75 376.50,457.40" fill="none" stroke="#000" stroke-width="1.25"  stroke-linejoin="round"/>
<polyline points="380.30,460.80 391.25,463.75 415.50,468.75 438.80,486.00 448.50,496.40 458.50,512.30 463.30,522.30" fill="none" stroke="#000" stroke-width="1.25"  stroke-linejoin="round"/>
<line x1="376.50" y1="451.30" x2="376.50" y2="464.10" stroke="#000" stroke-width="1.1" />
<line x1="380.30" y1="454.70" x2="380.30" y2="467.50" stroke="#000" stroke-width="1.1" />
<rect x="80.65" y="462.75" width="3.70" height="3.70" fill="#000" stroke="#000" stroke-width="1.1"/>
<rect x="138.15" y="465.35" width="3.70" height="3.70" fill="#000" stroke="#000" stroke-width="1.1"/>
<circle cx="82.50" cy="464.00" r="1.95" fill="#fff" stroke="#000" stroke-width="1.1"/>
<circle cx="140.00" cy="463.00" r="1.95" fill="#fff" stroke="#000" stroke-width="1.1"/>
<circle cx="282.50" cy="431.00" r="1.95" fill="#fff" stroke="#000" stroke-width="1.1"/>
<circle cx="367.00" cy="427.00" r="1.95" fill="#fff" stroke="#000" stroke-width="1.1"/>
<circle cx="391.25" cy="429.50" r="1.95" fill="#fff" stroke="#000" stroke-width="1.1"/>
<circle cx="415.50" cy="431.00" r="1.95" fill="#fff" stroke="#000" stroke-width="1.1"/>
<circle cx="438.80" cy="431.70" r="1.95" fill="#fff" stroke="#000" stroke-width="1.1"/>
<circle cx="448.50" cy="431.00" r="1.95" fill="#fff" stroke="#000" stroke-width="1.1"/>
<circle cx="458.50" cy="431.00" r="1.95" fill="#fff" stroke="#000" stroke-width="1.1"/>
<circle cx="463.30" cy="433.00" r="1.95" fill="#fff" stroke="#000" stroke-width="1.1"/>
<circle cx="486.70" cy="433.70" r="1.95" fill="#fff" stroke="#000" stroke-width="1.1"/>
<circle cx="510.80" cy="426.00" r="1.95" fill="#fff" stroke="#000" stroke-width="1.1"/>
<polygon points="82.50,458.85 84.65,462.72 80.35,462.72" fill="#fff" stroke="#000" stroke-width="1.1"/>
<polygon points="140.00,456.55 142.15,460.42 137.85,460.42" fill="#fff" stroke="#000" stroke-width="1.1"/>
<polygon points="282.50,453.65 284.65,457.52 280.35,457.52" fill="#fff" stroke="#000" stroke-width="1.1"/>
<polygon points="367.00,429.85 369.15,433.72 364.85,433.72" fill="#fff" stroke="#000" stroke-width="1.1"/>
<polygon points="391.25,439.85 393.40,443.72 389.10,443.72" fill="#fff" stroke="#000" stroke-width="1.1"/>
<polygon points="415.50,440.35 417.65,444.22 413.35,444.22" fill="#fff" stroke="#000" stroke-width="1.1"/>
<polygon points="438.80,439.85 440.95,443.72 436.65,443.72" fill="#fff" stroke="#000" stroke-width="1.1"/>
<polygon points="448.50,439.35 450.65,443.22 446.35,443.22" fill="#fff" stroke="#000" stroke-width="1.1"/>
<polygon points="458.50,438.65 460.65,442.52 456.35,442.52" fill="#fff" stroke="#000" stroke-width="1.1"/>
<polygon points="463.30,433.45 465.45,437.32 461.15,437.32" fill="#fff" stroke="#000" stroke-width="1.1"/>
<polygon points="486.70,438.25 488.85,442.12 484.55,442.12" fill="#fff" stroke="#000" stroke-width="1.1"/>
<polygon points="510.80,444.55 512.95,448.42 508.65,448.42" fill="#fff" stroke="#000" stroke-width="1.1"/>
<polygon points="82.50,461.70 84.80,464.00 82.50,466.30 80.20,464.00" fill="#fff" stroke="#000" stroke-width="1.1"/>
<polygon points="140.00,464.20 142.30,466.50 140.00,468.80 137.70,466.50" fill="#fff" stroke="#000" stroke-width="1.1"/>
<polygon points="282.50,450.70 284.80,453.00 282.50,455.30 280.20,453.00" fill="#fff" stroke="#000" stroke-width="1.1"/>
<polygon points="367.00,439.70 369.30,442.00 367.00,444.30 364.70,442.00" fill="#fff" stroke="#000" stroke-width="1.1"/>
<polygon points="391.25,435.20 393.55,437.50 391.25,439.80 388.95,437.50" fill="#fff" stroke="#000" stroke-width="1.1"/>
<polygon points="415.50,433.45 417.80,435.75 415.50,438.05 413.20,435.75" fill="#fff" stroke="#000" stroke-width="1.1"/>
<polygon points="438.80,429.40 441.10,431.70 438.80,434.00 436.50,431.70" fill="#fff" stroke="#000" stroke-width="1.1"/>
<polygon points="448.50,433.70 450.80,436.00 448.50,438.30 446.20,436.00" fill="#fff" stroke="#000" stroke-width="1.1"/>
<polygon points="458.50,433.30 460.80,435.60 458.50,437.90 456.20,435.60" fill="#fff" stroke="#000" stroke-width="1.1"/>
<polygon points="463.30,429.40 465.60,431.70 463.30,434.00 461.00,431.70" fill="#fff" stroke="#000" stroke-width="1.1"/>
<polygon points="486.70,422.70 489.00,425.00 486.70,427.30 484.40,425.00" fill="#fff" stroke="#000" stroke-width="1.1"/>
<polygon points="510.80,420.70 513.10,423.00 510.80,425.30 508.50,423.00" fill="#fff" stroke="#000" stroke-width="1.1"/>
<rect x="80.70" y="470.70" width="3.60" height="3.60" fill="#fff" stroke="#000" stroke-width="1.1"/>
<rect x="138.20" y="470.70" width="3.60" height="3.60" fill="#fff" stroke="#000" stroke-width="1.1"/>
<rect x="280.70" y="425.20" width="3.60" height="3.60" fill="#fff" stroke="#000" stroke-width="1.1"/>
<rect x="365.20" y="444.20" width="3.60" height="3.60" fill="#fff" stroke="#000" stroke-width="1.1"/>
<rect x="389.45" y="441.95" width="3.60" height="3.60" fill="#fff" stroke="#000" stroke-width="1.1"/>
<rect x="413.70" y="437.70" width="3.60" height="3.60" fill="#fff" stroke="#000" stroke-width="1.1"/>
<rect x="437.00" y="440.90" width="3.60" height="3.60" fill="#fff" stroke="#000" stroke-width="1.1"/>
<rect x="446.70" y="440.50" width="3.60" height="3.60" fill="#fff" stroke="#000" stroke-width="1.1"/>
<rect x="456.70" y="440.50" width="3.60" height="3.60" fill="#fff" stroke="#000" stroke-width="1.1"/>
<rect x="461.50" y="443.40" width="3.60" height="3.60" fill="#fff" stroke="#000" stroke-width="1.1"/>
<rect x="484.90" y="435.70" width="3.60" height="3.60" fill="#fff" stroke="#000" stroke-width="1.1"/>
<rect x="509.00" y="435.70" width="3.60" height="3.60" fill="#fff" stroke="#000" stroke-width="1.1"/>
<rect x="280.65" y="433.15" width="3.70" height="3.70" fill="#000" stroke="#000" stroke-width="1.1"/>
<rect x="365.15" y="451.90" width="3.70" height="3.70" fill="#000" stroke="#000" stroke-width="1.1"/>
<rect x="389.40" y="461.90" width="3.70" height="3.70" fill="#000" stroke="#000" stroke-width="1.1"/>
<rect x="413.65" y="466.90" width="3.70" height="3.70" fill="#000" stroke="#000" stroke-width="1.1"/>
<rect x="436.95" y="484.15" width="3.70" height="3.70" fill="#000" stroke="#000" stroke-width="1.1"/>
<rect x="446.65" y="494.55" width="3.70" height="3.70" fill="#000" stroke="#000" stroke-width="1.1"/>
<rect x="456.65" y="510.45" width="3.70" height="3.70" fill="#000" stroke="#000" stroke-width="1.1"/>
<rect x="461.45" y="520.45" width="3.70" height="3.70" fill="#000" stroke="#000" stroke-width="1.1"/>
<text x="71.20" y="349.90" font-size="13.2" text-anchor="end" font-weight="normal" fill="#000" stroke="#000" stroke-width="0.25" >200</text>
<text x="71.20" y="409.90" font-size="13.2" text-anchor="end" font-weight="normal" fill="#000" stroke="#000" stroke-width="0.25" >150</text>
<text x="71.20" y="469.50" font-size="13.2" text-anchor="end" font-weight="normal" fill="#000" stroke="#000" stroke-width="0.25" >100</text>
<text x="71.20" y="528.70" font-size="13.2" text-anchor="end" font-weight="normal" fill="#000" stroke="#000" stroke-width="0.25" >50</text>
<text x="71.20" y="589.10" font-size="13.2" text-anchor="end" font-weight="normal" fill="#000" stroke="#000" stroke-width="0.25" >0</text>
<text x="81.70" y="608.90" font-size="13.2" text-anchor="middle" font-weight="normal" fill="#000" stroke="#000" stroke-width="0.25" >-60</text>
<text x="153.03" y="608.90" font-size="13.2" text-anchor="middle" font-weight="normal" fill="#000" stroke="#000" stroke-width="0.25" >-45</text>
<text x="224.37" y="608.90" font-size="13.2" text-anchor="middle" font-weight="normal" fill="#000" stroke="#000" stroke-width="0.25" >-30</text>
<text x="295.70" y="608.90" font-size="13.2" text-anchor="middle" font-weight="normal" fill="#000" stroke="#000" stroke-width="0.25" >-15</text>
<text x="368.34" y="608.90" font-size="13.2" text-anchor="middle" font-weight="normal" fill="#000" stroke="#000" stroke-width="0.25" >0</text>
<text x="439.67" y="608.90" font-size="13.2" text-anchor="middle" font-weight="normal" fill="#000" stroke="#000" stroke-width="0.25" >15</text>
<text x="511.00" y="608.90" font-size="13.2" text-anchor="middle" font-weight="normal" fill="#000" stroke="#000" stroke-width="0.25" >30</text>
<text x="0.00" y="0.00" font-size="16.6" text-anchor="middle" font-weight="normal" fill="#000" stroke="#000" stroke-width="0.25" transform="translate(33.3,462) rotate(-90)">MAP (mm Hg)</text>
<text x="2.60" y="334.30" font-size="28.5" text-anchor="start" font-weight="bold" fill="#000" stroke="#000" stroke-width="0.25" >B</text>
<text x="296.50" y="629.40" font-size="14.2" text-anchor="middle" font-weight="normal" fill="#000" stroke="#000" stroke-width="0.25" >Time (minutes)</text>
<path d="M439.70,473.80 L437.00,473.80 C434.40,473.80 434.40,478.11 437.00,478.11 L437.00,481.50 L437.85,481.50 L437.85,474.65 L438.75,474.65 L438.75,481.50 L439.55,481.50 L439.55,474.65 L439.70,474.65 Z" fill="#000"/>
<path d="M450.10,483.40 L447.40,483.40 C444.80,483.40 444.80,487.71 447.40,487.71 L447.40,491.10 L448.25,491.10 L448.25,484.25 L449.15,484.25 L449.15,491.10 L449.95,491.10 L449.95,484.25 L450.10,484.25 Z" fill="#000"/>
<path d="M460.00,500.00 L457.30,500.00 C454.70,500.00 454.70,504.31 457.30,504.31 L457.30,507.70 L458.15,507.70 L458.15,500.85 L459.05,500.85 L459.05,507.70 L459.85,507.70 L459.85,500.85 L460.00,500.85 Z" fill="#000"/>
<path d="M465.70,510.20 L463.00,510.20 C460.40,510.20 460.40,514.51 463.00,514.51 L463.00,517.90 L463.85,517.90 L463.85,511.05 L464.75,511.05 L464.75,517.90 L465.55,517.90 L465.55,511.05 L465.70,511.05 Z" fill="#000"/>
<line x1="435.15" y1="507.75" x2="435.15" y2="514.25" stroke="#000" stroke-width="1.1" />
<line x1="432.34" y1="509.38" x2="437.96" y2="512.62" stroke="#000" stroke-width="1.1" />
<line x1="437.96" y1="509.38" x2="432.34" y2="512.62" stroke="#000" stroke-width="1.1" />
<line x1="442.85" y1="507.75" x2="442.85" y2="514.25" stroke="#000" stroke-width="1.1" />
<line x1="440.04" y1="509.38" x2="445.66" y2="512.62" stroke="#000" stroke-width="1.1" />
<line x1="445.66" y1="509.38" x2="440.04" y2="512.62" stroke="#000" stroke-width="1.1" />
<line x1="444.85" y1="515.95" x2="444.85" y2="522.45" stroke="#000" stroke-width="1.1" />
<line x1="442.04" y1="517.58" x2="447.66" y2="520.83" stroke="#000" stroke-width="1.1" />
<line x1="447.66" y1="517.58" x2="442.04" y2="520.83" stroke="#000" stroke-width="1.1" />
<line x1="452.55" y1="515.95" x2="452.55" y2="522.45" stroke="#000" stroke-width="1.1" />
<line x1="449.74" y1="517.58" x2="455.36" y2="520.83" stroke="#000" stroke-width="1.1" />
<line x1="455.36" y1="517.58" x2="449.74" y2="520.83" stroke="#000" stroke-width="1.1" />
<line x1="454.65" y1="527.75" x2="454.65" y2="534.25" stroke="#000" stroke-width="1.1" />
<line x1="451.84" y1="529.38" x2="457.46" y2="532.62" stroke="#000" stroke-width="1.1" />
<line x1="457.46" y1="529.38" x2="451.84" y2="532.62" stroke="#000" stroke-width="1.1" />
<line x1="462.35" y1="527.75" x2="462.35" y2="534.25" stroke="#000" stroke-width="1.1" />
<line x1="459.54" y1="529.38" x2="465.16" y2="532.62" stroke="#000" stroke-width="1.1" />
<line x1="465.16" y1="529.38" x2="459.54" y2="532.62" stroke="#000" stroke-width="1.1" />
<line x1="459.65" y1="540.75" x2="459.65" y2="547.25" stroke="#000" stroke-width="1.1" />
<line x1="456.84" y1="542.38" x2="462.46" y2="545.62" stroke="#000" stroke-width="1.1" />
<line x1="462.46" y1="542.38" x2="456.84" y2="545.62" stroke="#000" stroke-width="1.1" />
<line x1="467.35" y1="540.75" x2="467.35" y2="547.25" stroke="#000" stroke-width="1.1" />
<line x1="464.54" y1="542.38" x2="470.16" y2="545.62" stroke="#000" stroke-width="1.1" />
<line x1="470.16" y1="542.38" x2="464.54" y2="545.62" stroke="#000" stroke-width="1.1" />
<polygon points="462.80,587.20 466.20,596.00 464.25,596.00 464.25,610.50 461.35,610.50 461.35,596.00 459.40,596.00" fill="#fff" stroke="#000" stroke-width="1.05" stroke-linejoin="miter"/>
<text x="462.00" y="621.60" font-size="13.0" text-anchor="middle" font-weight="normal" fill="#000" stroke="#000" stroke-width="0.25" >Stroke</text>
<rect x="87.5" y="337.5" width="91.5" height="66" fill="#fff" stroke="#747474" stroke-width="1"/>
<line x1="92.20" y1="344.30" x2="120.00" y2="344.30" stroke="#000" stroke-width="1.1" />
<rect x="104.30" y="342.40" width="3.80" height="3.80" fill="#fff" stroke="#000" stroke-width="0.9"/>
<text x="122.00" y="347.40" font-size="9" text-anchor="start" font-weight="normal" fill="#000" stroke="#000" stroke-width="0.25" >LN-SS Alive</text>
<line x1="92.20" y1="357.00" x2="120.00" y2="357.00" stroke="#000" stroke-width="1.1" />
<rect x="104.10" y="354.90" width="4.20" height="4.20" fill="#000" stroke="#000" stroke-width="0.9"/>
<text x="122.00" y="360.10" font-size="9" text-anchor="start" font-weight="normal" fill="#000" stroke="#000" stroke-width="0.25" >LN-SS Stroke</text>
<line x1="92.70" y1="370.00" x2="120.00" y2="370.00" stroke="#000" stroke-width="1.0" stroke-dasharray="2,2.1"/>
<circle cx="106.20" cy="370.00" r="1.8" fill="#fff" stroke="#000" stroke-width="0.9"/>
<text x="122.00" y="373.10" font-size="9" text-anchor="start" font-weight="normal" fill="#000" stroke="#000" stroke-width="0.25" >LN-AA</text>
<line x1="92.20" y1="383.10" x2="120.00" y2="383.10" stroke="#000" stroke-width="1.1" />
<polygon points="106.20,380.90 108.40,383.10 106.20,385.30 104.00,383.10" fill="#fff" stroke="#000" stroke-width="0.9"/>
<text x="122.00" y="386.20" font-size="9" text-anchor="start" font-weight="normal" fill="#000" stroke="#000" stroke-width="0.25" >DN-SS</text>
<line x1="92.70" y1="396.00" x2="120.00" y2="396.00" stroke="#000" stroke-width="1.0" stroke-dasharray="2,2.1"/>
<polygon points="106.20,393.60 108.30,397.38 104.10,397.38" fill="#fff" stroke="#000" stroke-width="0.9"/>
<text x="122.00" y="399.10" font-size="9" text-anchor="start" font-weight="normal" fill="#000" stroke="#000" stroke-width="0.25" >DN-AA</text>
</svg></body></html>
